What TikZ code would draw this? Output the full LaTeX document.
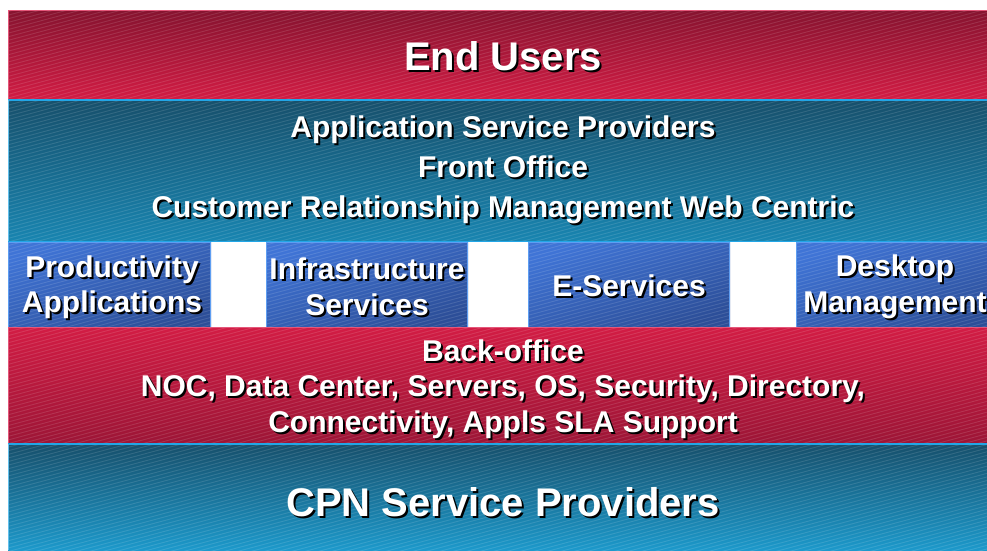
\documentclass[tikz,border=0pt]{standalone}
\usepackage{fontspec}
\setmainfont{Liberation Sans}
\usetikzlibrary{calc}
\definecolor{rdTop}{HTML}{86132F}
\definecolor{rdBot}{HTML}{D21C44}
\definecolor{boTop}{HTML}{D21C44}
\definecolor{boBot}{HTML}{9C1536}
\definecolor{tlTop}{HTML}{17506C}
\definecolor{tlBot}{HTML}{1C9CCF}
\definecolor{bxTop}{HTML}{3F74D6}
\definecolor{bxBot}{HTML}{2C4E98}
\definecolor{edgeBlue}{HTML}{22A6E6}
\definecolor{boxEdge}{HTML}{5E9EF2}
\definecolor{edgePink}{HTML}{E4577A}
\tikzset{
  txt/.style={text=white, font=\bfseries\fontsize{30}{35.5}\selectfont, align=center, inner sep=0pt},
  big/.style={txt, font=\bfseries\fontsize{40}{48}\selectfont},
  asp/.style={txt, font=\bfseries\fontsize{30}{40}\selectfont},
}
\newcommand\shtext[4][txt]{%
  \node[#1,text=black] at ([shift={(2,2)}]#2) {#4};
  \node[#1] (#3) at (#2) {#4};}
\begin{document}
\begin{tikzpicture}[x=1pt,y=-1pt]
\useasboundingbox (0,0) rectangle (987,550);
\fill[white] (0,0) rectangle (987,550);
\begin{scope}
\clip (0,0) rectangle (987,550);
% bands
\shade[top color=rdTop, bottom color=rdBot] (8,10) rectangle (995,100);
\shade[top color=tlTop, bottom color=tlBot!85!black] (8,100) rectangle (995,241);
\shade[top color=boTop, bottom color=boBot] (8,327) rectangle (995,444);
\shade[top color=tlTop, bottom color=tlBot] (8,444) rectangle (995,555);
% middle boxes
\foreach \a/\b in {8/211, 266/468, 528/730, 796/1000}{
  \shade[top color=bxTop, bottom color=bxBot, shading angle=20] (\a,242) rectangle (\b,327);
}
% texture
\begin{scope}
\clip (8,10) rectangle (995,241) (8,327) rectangle (995,555)
      (8,242) rectangle (211,327) (266,242) rectangle (468,327)
      (528,242) rectangle (730,327) (796,242) rectangle (1000,327);
\foreach \k in {0,...,240}{
  \draw[white, opacity=0.12, line width=0.9pt] (8,{8+3.6*\k}) -- (995,{8+3.6*\k-264});
}
\end{scope}
% edges
\draw[edgePink, line width=1pt] (8,10.5) -- (995,10.5);
\draw[edgePink, line width=1pt] (8.5,10) -- (8.5,100);
\draw[edgeBlue, line width=1.5pt] (8,100) -- (995,100);
\draw[edgeBlue!70!white, line width=1pt] (8.5,100) -- (8.5,241);
\draw[edgeBlue, line width=1pt] (8,241) -- (995,241);
\foreach \a/\b in {8/211, 266/468, 528/730, 796/1000}{
  \draw[boxEdge, line width=1pt] (\a+0.5,242) rectangle (\b-0.5,327);
}
\draw[edgePink, line width=1pt] (8,327.5) -- (995,327.5);
\draw[edgePink, line width=1pt] (8.5,327) -- (8.5,444);
\draw[edgeBlue, line width=1.5pt] (8,444) -- (995,444);
\draw[edgeBlue!70!white, line width=1pt] (8.5,444) -- (8.5,550);
\end{scope}
% texts
\coordinate (p-eu) at (503,56);
\coordinate (p-asp) at (503,170);
\coordinate (p-prod) at (112,287);
\coordinate (p-infra) at (367,287);
\coordinate (p-es) at (629,286);
\coordinate (p-desk) at (895,287);
\coordinate (p-bo) at (503,389);
\coordinate (p-cpn) at (503,502);
\shtext[big]{p-eu}{eu}{End Users}
\shtext[asp]{p-asp}{asp}{Application Service Providers\\Front Office\\Customer Relationship Management Web Centric}
\shtext{p-prod}{prod}{Productivity\\Applications}
\shtext{p-infra}{infra}{Infrastructure\\Services}
\shtext{p-es}{es}{E-Services}
\shtext{p-desk}{desk}{Desktop\\Management}
\shtext{p-bo}{bo}{Back-office\\NOC, Data Center, Servers, OS, Security, Directory,\\Connectivity, Appls SLA Support}
\shtext[big]{p-cpn}{cpn}{CPN Service Providers}
\end{tikzpicture}
\end{document}
